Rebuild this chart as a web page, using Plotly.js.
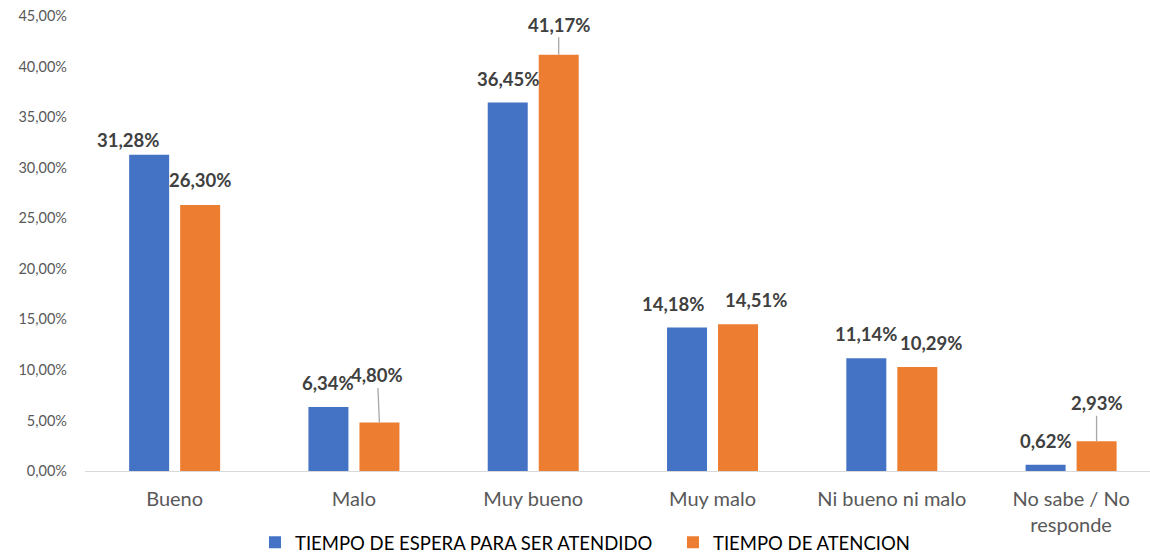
<!DOCTYPE html>
<html>
<head>
<meta charset="utf-8">
<script src="https://cdn.plot.ly/plotly-3.0.1.min.js"></script>
<style>html,body{margin:0;padding:0;background:#fff;}#chart{width:1150px;height:555px;}</style>
</head>
<body>
<div id="chart"></div>
<script>
// ---- data ----
const categories = ["Bueno", "Malo", "Muy bueno", "Muy malo", "Ni bueno ni malo", "No sabe / No<br>responde"];
const seriesNames = ["TIEMPO DE ESPERA PARA SER ATENDIDO", "TIEMPO DE ATENCION"];
const esperaValues = [31.28, 6.34, 36.45, 14.18, 11.14, 0.62];
const atencionValues = [26.30, 4.80, 41.17, 14.51, 10.29, 2.93];
const yTicks = [0, 5, 10, 15, 20, 25, 30, 35, 40, 45];

// ---- styling ----
const colors = ["#4472C4", "#ED7D31"];
const FONT = "Lato, 'Open Sans', sans-serif";
// label placement (px): lift above bar top, horizontal nudge, leader line flag
const labelStyle = [
  { lift: [15, 24, 23, 24, 24, 24], nudge: [-21, 0, 0, -14, 0, 0], leader: [0, 0, 0, 0, 0, 0] },
  { lift: [25, 47, 30, 24, 24, 38], nudge: [0, -2, 0, 18, 14, 0], leader: [0, 1, 1, 0, 0, 1] }
];
const groupOffset = 0.142; // bar center offset from category center (axis units)

const fmt = v => v.toFixed(2).replace('.', ',') + '%';

const seriesValues = [esperaValues, atencionValues];
const traces = seriesValues.map((vals, s) => ({
  type: 'bar',
  name: seriesNames[s],
  x: categories,
  y: vals,
  marker: { color: colors[s] },
  hoverinfo: 'skip'
}));

const annotations = [];
seriesValues.forEach((vals, s) => {
  const sign = s === 0 ? -1 : 1;
  vals.forEach((v, i) => {
    const st = labelStyle[s];
    const hasLeader = !!st.leader[i];
    annotations.push({
      xref: 'x', yref: 'y',
      x: i + sign * groupOffset,
      y: v,
      text: fmt(v),
      font: { family: FONT, size: 18.5, color: '#404040', weight: 'bold' },
      showarrow: hasLeader,
      arrowhead: 0,
      arrowwidth: 1.3,
      arrowcolor: '#A6A6A6',
      ax: st.nudge[i],
      ay: -st.lift[i],
      standoff: 0,
      xshift: hasLeader ? 0 : st.nudge[i],
      yshift: hasLeader ? 0 : st.lift[i],
      yanchor: 'middle',
      xanchor: 'center',
      borderpad: 1
    });
  });
});

const layout = {
  width: 1150,
  height: 555,
  margin: { l: 85, r: 0, t: 16, b: 84 },
  paper_bgcolor: '#ffffff',
  plot_bgcolor: '#ffffff',
  separators: ',.',
  font: { family: FONT, color: '#595959' },
  barmode: 'group',
  bargap: 0.431,
  bargroupgap: 0.216,
  xaxis: {
    type: 'category',
    range: [-0.5, 5.44],
    showgrid: false,
    zeroline: false,
    showline: true,
    linecolor: '#D9D9D9',
    linewidth: 1,
    ticks: '',
    tickfont: { family: FONT, size: 20, color: '#595959' },
    ticklabelstandoff: 10
  },
  yaxis: {
    range: [0, 45],
    tickmode: 'array',
    tickvals: yTicks,
    ticktext: yTicks.map(fmt),
    showgrid: false,
    zeroline: false,
    showline: false,
    ticks: '',
    tickfont: { family: FONT, size: 14.5, color: '#595959' },
    ticklabelstandoff: 17
  },
  showlegend: true,
  legend: {
    orientation: 'h',
    xref: 'container', yref: 'container',
    x: 0.5852, xanchor: 'center',
    y: 0.022, yanchor: 'middle',
    bgcolor: 'rgba(0,0,0,0)',
    font: { family: FONT, size: 18.5, color: '#000000' },
    entrywidthmode: 'pixels',
    entrywidth: 373,
    itemclick: false,
    traceorder: 'normal'
  },
  annotations: annotations
};

Plotly.newPlot('chart', traces, layout, { displayModeBar: false, staticPlot: true });
</script>
</body>
</html>
